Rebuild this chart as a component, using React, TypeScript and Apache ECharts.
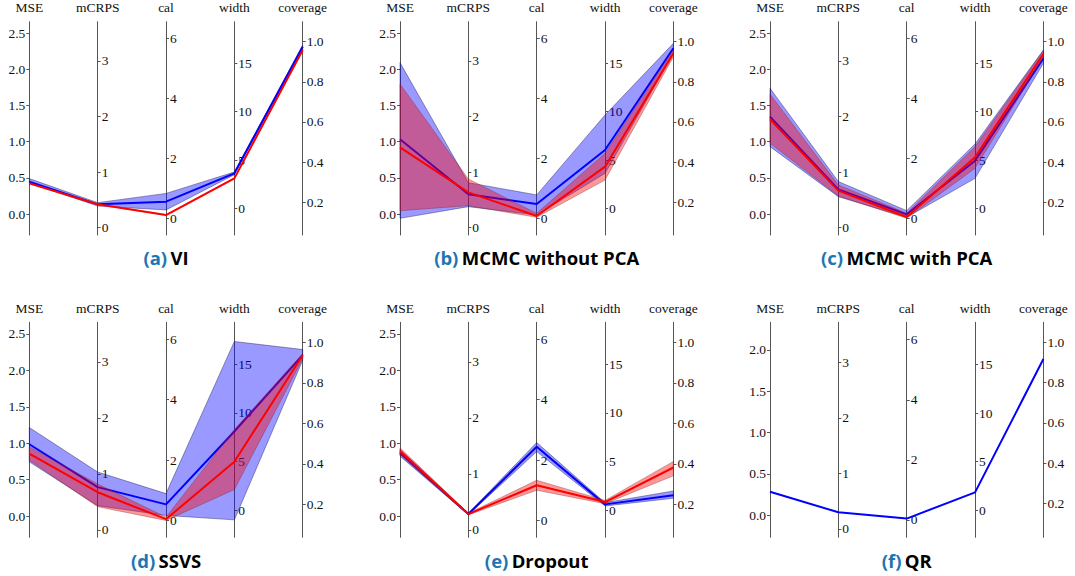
import React, { useEffect, useRef } from "react";
import * as echarts from "echarts";

// ---------- axes ----------
const axisNames = ["MSE", "mCRPS", "cal", "width", "coverage"];
const axisMin = [-0.29, -0.132, -0.556, -2.76, 0.037];
const axisMax = [2.66, 3.707, 6.556, 19.31, 1.0996];
const axisMinQR = [-0.266, -0.15, -0.58, -2.8, 0.031];
const axisMaxQR = [2.335, 3.72, 6.58, 19.35, 1.0995];

const mseTicks = [0, 0.5, 1, 1.5, 2, 2.5];
const mseTicksQR = [0, 0.5, 1, 1.5, 2];
const mcrpsTicks = [0, 1, 2, 3];
const calTicks = [0, 2, 4, 6];
const widthTicks = [0, 5, 10, 15];
const coverageTicks = [0.2, 0.4, 0.6, 0.8, 1.0];

// ---------- panels ----------
const panelLabels = ["(a)", "(b)", "(c)", "(d)", "(e)", "(f)"];
const panelNames = ["VI", "MCMC without PCA", "MCMC with PCA", "SSVS", "Dropout", "QR"];

// (a) VI
const viBlue = [0.447, 0.42, 0.556, 3.62, 0.975];
const viBlueLow = [0.43, 0.39, 0.28, 3.48, 0.967];
const viBlueHigh = [0.49, 0.45, 0.83, 3.76, 0.983];
const viRed = [0.424, 0.42, 0.11, 3.1, 0.958];
const viRedLow = [0.418, 0.415, 0.1, 3.05, 0.955];
const viRedHigh = [0.43, 0.425, 0.12, 3.15, 0.961];

// (b) MCMC without PCA
const mcmcBlue = [1.033, 0.6, 0.48, 6.03, 0.967];
const mcmcBlueLow = [-0.06, 0.378, 0.11, 3.62, 0.942];
const mcmcBlueHigh = [2.094, 0.81, 0.78, 9.66, 0.992];
const mcmcRed = [0.922, 0.636, 0.078, 4.31, 0.942];
const mcmcRedLow = [0.046, 0.396, 0.033, 2.93, 0.925];
const mcmcRedHigh = [1.8, 0.876, 0.167, 5.69, 0.959];

// (c) MCMC with PCA
const pcaBlue = [1.347, 0.69, 0.133, 4.93, 0.917];
const pcaBlueLow = [0.932, 0.558, 0.033, 3.1, 0.892];
const pcaBlueHigh = [1.739, 0.83, 0.256, 6.66, 0.959];
const pcaRed = [1.31, 0.666, 0.044, 5.28, 0.939];
const pcaRedLow = [0.978, 0.57, 0.0, 4.14, 0.922];
const pcaRedHigh = [1.66, 0.768, 0.167, 6.38, 0.955];

// (d) SSVS
const ssvsBlue = [0.987, 0.764, 0.533, 8.1, 0.937];
const ssvsBlueLow = [0.745, 0.433, 0.167, -0.97, 0.912];
const ssvsBlueHigh = [1.216, 1.034, 0.889, 17.34, 0.965];
const ssvsRed = [0.859, 0.673, 0.044, 5.0, 0.937];
const ssvsRedLow = [0.768, 0.415, 0.0, 2.14, 0.92];
const ssvsRedHigh = [0.95, 0.82, 0.111, 8.3, 0.945];

// (e) Dropout
const dropBlue = [0.868, 0.283, 2.44, 0.62, 0.245];
const dropBlueLow = [0.823, 0.268, 2.28, 0.45, 0.23];
const dropBlueHigh = [0.914, 0.298, 2.58, 0.79, 0.266];
const dropRed = [0.891, 0.283, 1.167, 0.86, 0.382];
const dropRedLow = [0.845, 0.268, 1.0, 0.69, 0.341];
const dropRedHigh = [0.937, 0.298, 1.33, 1.03, 0.412];

// (f) QR
const qrBlue = [0.286, 0.3, 0.044, 1.83, 0.917];

type Band = { mean: number[]; low?: number[]; high?: number[] };
type Panel = { blue: Band; red?: Band; qr?: boolean };

const panels: Panel[] = [
  { blue: { mean: viBlue, low: viBlueLow, high: viBlueHigh }, red: { mean: viRed, low: viRedLow, high: viRedHigh } },
  { blue: { mean: mcmcBlue, low: mcmcBlueLow, high: mcmcBlueHigh }, red: { mean: mcmcRed, low: mcmcRedLow, high: mcmcRedHigh } },
  { blue: { mean: pcaBlue, low: pcaBlueLow, high: pcaBlueHigh }, red: { mean: pcaRed, low: pcaRedLow, high: pcaRedHigh } },
  { blue: { mean: ssvsBlue, low: ssvsBlueLow, high: ssvsBlueHigh }, red: { mean: ssvsRed, low: ssvsRedLow, high: ssvsRedHigh } },
  { blue: { mean: dropBlue, low: dropBlueLow, high: dropBlueHigh }, red: { mean: dropRed, low: dropRedLow, high: dropRedHigh } },
  { blue: { mean: qrBlue }, qr: true },
];

// ---------- layout ----------
const panelLefts = [29.3, 400, 770];
const gridWidth = 273.4;
const rowTops = [21.7, 322.3];
const rowHeights = [213.3, 215];
const titleYs = [257, 560];

const SERIF = "'Liberation Serif', 'Times New Roman', serif";
const SANS = "'Open Sans', 'Noto Sans', sans-serif";
const AXIS_COLOR = "#555";
const TEXT_COLOR = "#111";

function buildOption() {
  const grid: any[] = [];
  const xAxis: any[] = [];
  const yAxis: any[] = [];
  const series: any[] = [];
  const graphic: any[] = [];

  panels.forEach((p, i) => {
    const row = Math.floor(i / 3);
    const col = i % 3;
    const left = panelLefts[col];
    const top = rowTops[row];
    const height = rowHeights[row];
    const spacing = gridWidth / (axisNames.length - 1);
    const mins = p.qr ? axisMinQR : axisMin;
    const maxs = p.qr ? axisMaxQR : axisMax;
    const tickSets = [p.qr ? mseTicksQR : mseTicks, mcrpsTicks, calTicks, widthTicks, coverageTicks];
    const fmts = [
      (v: number) => v.toFixed(1),
      (v: number) => String(Math.round(v)),
      (v: number) => String(Math.round(v)),
      (v: number) => String(Math.round(v)),
      (v: number) => v.toFixed(1),
    ];
    const norm = (v: number, k: number) => (v - mins[k]) / (maxs[k] - mins[k]);

    grid.push({ left, top, width: gridWidth, height, containLabel: false });
    xAxis.push({ gridIndex: i, type: "value", min: 0, max: axisNames.length - 1, show: false });

    const normAxisIndex = yAxis.length;
    yAxis.push({ gridIndex: i, type: "value", min: 0, max: 1, show: false });

    axisNames.forEach((name, k) => {
      const isFirst = k === 0;
      yAxis.push({
        gridIndex: i,
        type: "value",
        min: mins[k],
        max: maxs[k],
        position: isFirst ? "left" : "right",
        offset: isFirst ? 0 : -(axisNames.length - 1 - k) * spacing,
        name,
        nameLocation: "end",
        nameGap: 7,
        nameTextStyle: { fontFamily: SERIF, fontSize: 13.5, color: TEXT_COLOR, align: "center" },
        axisLine: { show: true, onZero: false, lineStyle: { color: AXIS_COLOR, width: 1 } },
        axisTick: { show: true, length: 3, customValues: tickSets[k], lineStyle: { color: AXIS_COLOR } },
        axisLabel: {
          show: true,
          customValues: tickSets[k],
          formatter: fmts[k],
          fontFamily: SERIF,
          fontSize: 13.5,
          color: TEXT_COLOR,
          margin: 4,
        },
        splitLine: { show: false },
      });
    });

    const addBand = (b: Band, fill: string, stroke: string, z: number) => {
      if (!b.low || !b.high) return;
      const data = b.low.map((lo, k) => [k, norm(lo, k), norm(b.high![k], k)]);
      series.push({
        type: "custom",
        xAxisIndex: i,
        yAxisIndex: normAxisIndex,
        z,
        silent: true,
        encode: { x: 0, y: [1, 2] },
        data,
        renderItem: (params: any, api: any) => {
          if (params.dataIndex !== 0) return null;
          const n = data.length;
          const upper: number[][] = [];
          const lower: number[][] = [];
          for (let k = 0; k < n; k++) {
            upper.push(api.coord([api.value(0, k), api.value(2, k)]));
            lower.push(api.coord([api.value(0, k), api.value(1, k)]));
          }
          lower.reverse();
          return {
            type: "polygon",
            shape: { points: upper.concat(lower) },
            style: { fill, stroke, lineWidth: 0.8 },
          };
        },
      });
    };
    const addLine = (b: Band, color: string, z: number) => {
      series.push({
        type: "line",
        xAxisIndex: i,
        yAxisIndex: normAxisIndex,
        z,
        silent: true,
        symbol: "none",
        showSymbol: false,
        lineStyle: { color, width: 2 },
        data: b.mean.map((v, k) => [k, norm(v, k)]),
      });
    };

    addBand(p.blue, "rgba(0,0,255,0.4)", "rgba(30,30,90,0.55)", 2);
    addLine(p.blue, "#0000ff", 3);
    if (p.red) {
      addBand(p.red, "rgba(255,0,0,0.4)", "rgba(120,40,40,0.45)", 4);
      addLine(p.red, "#ff0000", 5);
    }

    graphic.push({
      type: "text",
      x: left + gridWidth / 2,
      y: titleYs[row],
      style: {
        text: `{l|${panelLabels[i]}} {n|${panelNames[i]}}`,
        align: "center",
        verticalAlign: "middle",
        rich: {
          l: { fontFamily: SANS, fontWeight: "bold", fontSize: 18.5, fill: "#1d75b3" },
          n: { fontFamily: SANS, fontWeight: "bold", fontSize: 18.5, fill: "#000" },
        },
      },
    });
  });

  return { animation: false, backgroundColor: "#fff", grid, xAxis, yAxis, series, graphic };
}

export default function App() {
  const ref = useRef<HTMLDivElement>(null);
  useEffect(() => {
    if (!ref.current) return;
    const chart = echarts.init(ref.current, undefined, { renderer: "svg" });
    chart.setOption(buildOption() as any);
    return () => chart.dispose();
  }, []);
  return (
    <div
      ref={ref}
      style={{ position: "absolute", left: 0, top: 0, width: 1075, height: 576, background: "#fff" }}
    />
  );
}
